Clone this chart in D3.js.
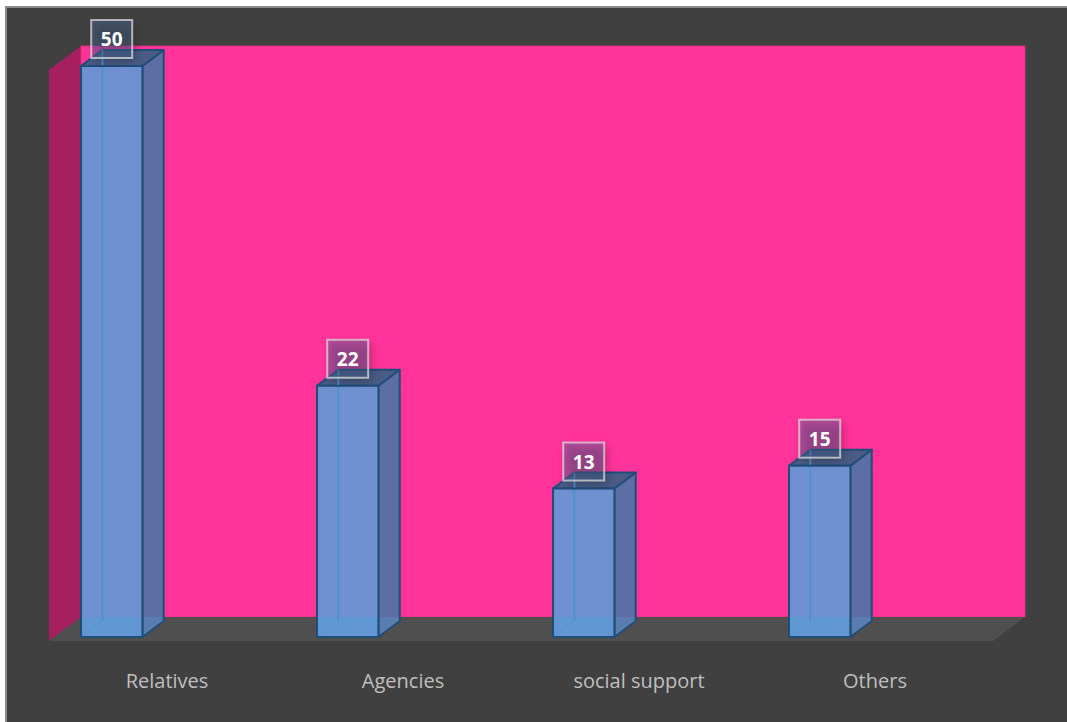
<!DOCTYPE html>
<html>
<head>
<meta charset="utf-8">
<script src="https://cdn.jsdelivr.net/npm/d3@7"></script>
<style>
  html, body { margin: 0; padding: 0; background: #ffffff; }
  svg { display: block; }
</style>
</head>
<body>
<svg id="chart" width="1067" height="722"></svg>
<script>
// Data
const categories = ["Relatives", "Agencies", "social support", "Others"];
const values = [50, 22, 13, 15];
const valueMax = 50;

const svg = d3.select("#chart");

// Frame
svg.append("rect").attr("x", 6).attr("y", 7).attr("width", 1070).attr("height", 720)
  .attr("fill", "#404040").attr("stroke", "#8c8c8c").attr("stroke-width", 2);

// 3D box geometry: back wall plane and depth offset toward the viewer
const wall = { left: 81, right: 1025, top: 46, bottom: 617 };
const depth = { dx: -32, dy: 24 };

const x = d3.scaleBand().domain(categories).range([wall.left, wall.right]);
const y = d3.scaleLinear().domain([0, valueMax]).range([wall.bottom, wall.top]);

const poly = pts => "M" + pts.map(p => p.join(",")).join("L") + "Z";

// Side wall
svg.append("path")
  .attr("d", poly([[wall.left, y(valueMax)], [wall.left, y(0)],
                   [wall.left + depth.dx, y(0) + depth.dy], [wall.left + depth.dx, y(valueMax) + depth.dy]]))
  .attr("fill", "#a61f5f");

// Back wall
svg.append("rect")
  .attr("x", wall.left).attr("y", y(valueMax))
  .attr("width", wall.right - wall.left).attr("height", y(0) - y(valueMax))
  .attr("fill", "#ff3399").attr("stroke", "#e0307f").attr("stroke-width", 0.8);

// Floor
svg.append("path")
  .attr("d", poly([[wall.left, y(0)], [wall.right, y(0)],
                   [wall.right + depth.dx, y(0) + depth.dy], [wall.left + depth.dx, y(0) + depth.dy]]))
  .attr("fill", "#4f4f4f");

// Bars: front face sits 20px toward the viewer, back face 4px
const frontF = 20 / depth.dy, backF = 4 / depth.dy;
const barW = x.bandwidth() * 0.26;

const defs = svg.append("defs");
defs.append("filter").attr("id", "soft").attr("x", "-50%").attr("y", "-50%")
  .attr("width", "200%").attr("height", "200%")
  .append("feGaussianBlur").attr("stdDeviation", 4);

categories.forEach((c, i) => {
  const v = values[i];
  const fx0 = x(c) + depth.dx * frontF + 26.7;   // front-left x
  const fx1 = fx0 + barW;
  const fyb = y(0) + depth.dy * frontF;           // front bottom
  const fyt = y(v) + depth.dy * frontF;           // front top
  const ox = (backF - frontF) * depth.dx;         // front -> back x shift
  const oy = (backF - frontF) * depth.dy;         // front -> back y shift

  const g = svg.append("g");
  // right side
  g.append("path")
    .attr("d", poly([[fx1, fyt], [fx1 + ox, fyt + oy], [fx1 + ox, fyb + oy], [fx1, fyb]]))
    .attr("fill", "#5c6ea3");
  g.append("path")
    .attr("d", poly([[fx1, y(0)], [fx1 + ox, y(0)], [fx1 + ox, fyb + oy], [fx1, fyb]]))
    .attr("fill", "#5a86b8").attr("opacity", 0.6);
  g.append("path")
    .attr("d", poly([[fx1, fyt], [fx1 + ox, fyt + oy], [fx1 + ox, fyb + oy], [fx1, fyb]]))
    .attr("fill", "none").attr("stroke", "#1f4e79").attr("stroke-width", 2)
    .attr("stroke-linejoin", "round");
  // top
  g.append("path")
    .attr("d", poly([[fx0, fyt], [fx0 + ox, fyt + oy], [fx1 + ox, fyt + oy], [fx1, fyt]]))
    .attr("fill", "#4a5c86").attr("stroke", "#1f4e79").attr("stroke-width", 2)
    .attr("stroke-linejoin", "round");
  // front
  g.append("rect")
    .attr("x", fx0).attr("y", fyt).attr("width", barW).attr("height", fyb - fyt)
    .attr("fill", "#7091d1");
  // lower part of the translucent front face, where the floor lies behind it
  g.append("rect")
    .attr("x", fx0).attr("y", y(0)).attr("width", barW).attr("height", fyb - y(0))
    .attr("fill", "#5b9bd5").attr("opacity", 0.7);
  // hidden back-left edge seen through the front face
  g.append("line")
    .attr("x1", fx0 + ox).attr("x2", fx0 + ox).attr("y1", fyt + oy).attr("y2", fyb + oy)
    .attr("stroke", "#4f91cf").attr("stroke-width", 2);
  g.append("line")
    .attr("x1", fx0).attr("x2", fx0 + ox).attr("y1", fyb).attr("y2", fyb + oy)
    .attr("stroke", "#4f91cf").attr("stroke-width", 1).attr("opacity", 0.6);
  g.append("rect")
    .attr("x", fx0).attr("y", fyt).attr("width", barW).attr("height", fyb - fyt)
    .attr("fill", "none").attr("stroke", "#1f4e79").attr("stroke-width", 2);

  // value label
  const cx = fx0 + barW / 2;
  const bw = 41, bh = 38;
  const by = fyt - 8 - bh;
  svg.append("rect")
    .attr("x", cx - bw / 2 + 3).attr("y", by + 4).attr("width", bw).attr("height", bh)
    .attr("fill", "#000").attr("opacity", 0.25).attr("filter", "url(#soft)");
  svg.append("rect")
    .attr("x", cx - bw / 2).attr("y", by).attr("width", bw).attr("height", bh)
    .attr("fill", "rgb(80,110,160)").attr("fill-opacity", 0.4)
    .attr("stroke", "#d9d9d9").attr("stroke-opacity", 0.75).attr("stroke-width", 2);
  svg.append("text")
    .attr("x", cx).attr("y", by + bh / 2 + 7)
    .attr("text-anchor", "middle")
    .attr("font-family", "'Open Sans', sans-serif").attr("font-weight", "bold")
    .attr("font-size", 19).attr("fill", "#ffffff")
    .text(v);
});

// Category labels along the front floor edge
svg.append("g").selectAll("text").data(categories).join("text")
  .attr("x", d => x(d) + x.bandwidth() / 2 + depth.dx)
  .attr("y", 688)
  .attr("text-anchor", "middle")
  .attr("font-family", "'Open Sans', sans-serif")
  .attr("font-size", 20).attr("fill", "#bfbfbf")
  .text(d => d);
</script>
</body>
</html>
